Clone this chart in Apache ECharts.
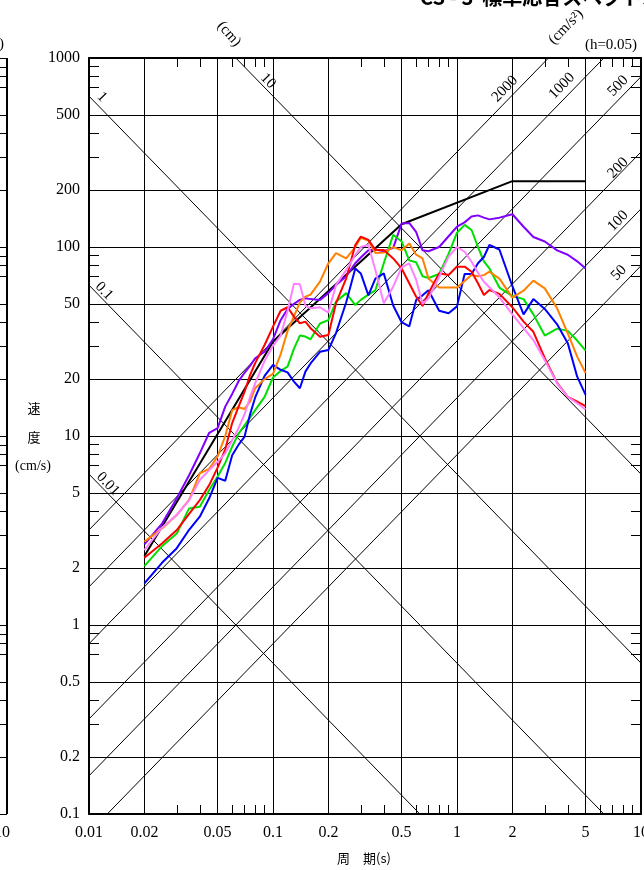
<!DOCTYPE html>
<html><head><meta charset="utf-8">
<script src="https://cdn.jsdelivr.net/npm/echarts@6/dist/echarts.min.js"></script>
<style>html,body{margin:0;padding:0;background:#fff}#c{width:644px;height:870px}</style>
</head><body><div id="c"></div>
<script>
// ---- data ----
const periods = [0.02,0.025,0.03,0.035,0.04,0.045,0.05,0.055,0.06,0.065,0.07,0.075,0.08,0.09,
  0.1,0.11,0.12,0.13,0.14,0.15,0.16,0.18,0.2,0.22,0.25,0.28,0.3,0.33,0.36,0.4,0.45,
  0.5,0.55,0.6,0.65,0.7,0.8,0.9,1.0,1.1,1.2,1.3,1.4,1.5,1.7,2.0,2.3,2.6,3.0,3.5,4.0,4.5,5.0];
const purpleSv = [2.67,3.45,4.68,6.2,8.1,10.4,11.0,14.3,16.7,19.5,21.6,23.5,25.8,27.9,
  32.5,41,47,50,52.5,53.6,53,52.5,57,63,70,82,88,96,97,95,99,
  133,134,120,96,95,100,114,128,135,145,147,143,140,143,149,128,113,107,96,91,84,77];
const greenSv = [2.05,2.62,3.05,4.14,4.22,5.18,6.1,7.2,8.8,10.3,11.4,12.5,13.7,16.1,
  20.4,22.1,23.3,29,34,33.6,32.5,39.4,41,51.4,57,49.3,52.5,56,59,82,116,
  107,85,83,70,68.5,72,92,119,131,123,100,84,77,61,55,53,44,34,37,36,32,28.3];
const blueSv = [1.66,2.14,2.55,3.19,3.74,4.68,6.0,5.8,7.9,9.0,9.9,13,16,20.8,
  23.8,22.4,21.7,19.4,17.9,21.9,24.2,27.9,28.5,35,51,77,72.5,55.5,68,72.5,49,
  40,38,52.5,55.5,59,46,44.6,48.5,72,72,82,88.5,102.5,97,62,44,53,47,39,31,20.6,16.5];
const orangeSv = [2.76,3.25,3.82,4.59,6.35,6.7,7.8,10,13.7,14.2,13.9,15.2,17.9,20,
  21.3,27,36,43,51,54.6,56,65.6,82,92.7,87,100,112,108,93,93.5,100,
  96,104.5,91,87,68,61,61,61,66,71,70,71,74,68,54,58.7,66.4,60.4,47.4,34.9,26.3,21.5];
const redSv = [2.27,2.71,3.18,3.87,4.58,5.5,6.8,8.5,11.7,14.3,17.1,21,24.3,30.3,
  37.9,46,48,42.8,39.5,40.3,37.2,33.5,34.2,50.4,68.3,102.5,113.5,109,96.4,96.4,87,
  77,64.3,54.6,48.7,56.9,72.6,71.1,78.7,78.7,74,64.3,55.7,59.2,56.5,48,40.3,35.6,25.8,19.1,16.1,15.2,14.4];
const pinkSv = [2.49,3.29,3.82,4.58,5.85,6.6,7.3,8.1,9.5,11,13,16,19,25,
  30,34,46,64,63.5,49,47.4,48,45,63,75.5,90.7,100,102.6,75.5,50.4,61.7,
  78,82,67,50,53.5,69.6,89,100,94.4,83.6,73,65.5,61.2,54.2,44,37.2,32.2,25.2,19,16.1,14.9,13.8];
const stdPeriods = [0.02,0.1,0.5,2,5];
const stdSv = [2.32,31.5,132,223,223];

const xMajor = [0.01,0.02,0.05,0.1,0.2,0.5,1,2,5,10];
const xMinor = [0.03,0.04,0.06,0.07,0.08,0.09,0.3,0.4,0.6,0.7,0.8,0.9,3,4,6,7,8,9];
const yMajor = [0.1,0.2,0.5,1,2,5,10,20,50,100,200,500,1000];
const yMinor = [0.3,0.4,0.7,0.8,0.9,3,4,7,8,9,30,40,70,80,90,300,400,700,800,900];
const dispLinesCm = [0.01,0.1,1,10];
const accLinesCms2 = [50,100,200,500,1000,2000];

// ---- chart ----
const TWO_PI = 2*Math.PI;
const serif = '"Liberation Serif","DejaVu Serif",serif';
const fmt = v => String(+(+v).toPrecision(6));

function curve(name, color, vals, xs){
  xs = xs || periods;
  return {name, type:'line', data: xs.map((t,i)=>[t, vals[i]]), showSymbol:false,
    lineStyle:{color, width:2}, itemStyle:{color}, z:5, animation:false};
}
const diag = [];
dispLinesCm.forEach(sd => diag.push({type:'line', data:[[0.01, TWO_PI*sd/0.01],[10, TWO_PI*sd/10]],
  showSymbol:false, lineStyle:{color:'#000', width:1}, z:3, silent:true, animation:false}));
accLinesCms2.forEach(sa => diag.push({type:'line', data:[[0.01, sa*0.01/TWO_PI],[10, sa*10/TWO_PI]],
  showSymbol:false, lineStyle:{color:'#000', width:1}, z:3, silent:true, animation:false}));

const baseX = {type:'log', min:0.01, max:10, gridIndex:0};
const baseY = {type:'log', min:0.1, max:1000, gridIndex:0};
const option = {
  animation:false,
  backgroundColor:'#fff',
  grid:{left:89, right:3, top:58, bottom:56, containLabel:false, outerBoundsMode:'none'},
  xAxis:[
    Object.assign({}, baseX, {position:'bottom',
      axisLine:{show:true, lineStyle:{color:'#000', width:2}},
      axisTick:{show:false, customValues:xMajor},
      axisLabel:{show:true, customValues:xMajor, formatter:fmt, color:'#000', fontFamily:serif, fontSize:16, margin:11},
      splitLine:{show:true, lineStyle:{color:'#000', width:1}}}),
    Object.assign({}, baseX, {position:'top',
      axisLine:{show:true, lineStyle:{color:'#000', width:2}},
      axisTick:{show:true, inside:true, length:9, customValues:xMinor, lineStyle:{color:'#000', width:1}},
      axisLabel:{show:false}, splitLine:{show:false}}),
    Object.assign({}, baseX, {position:'bottom',
      axisLine:{show:false},
      axisTick:{show:true, inside:true, length:9, customValues:xMinor, lineStyle:{color:'#000', width:1}},
      axisLabel:{show:false}, splitLine:{show:false}})
  ],
  yAxis:[
    Object.assign({}, baseY, {position:'left',
      axisLine:{show:true, lineStyle:{color:'#000', width:2}},
      axisTick:{show:false, customValues:yMajor},
      axisLabel:{show:true, customValues:yMajor, formatter:fmt, color:'#000', fontFamily:serif, fontSize:16, margin:9},
      splitLine:{show:true, lineStyle:{color:'#000', width:1}}}),
    Object.assign({}, baseY, {position:'left',
      axisLine:{show:false},
      axisTick:{show:true, inside:true, length:10, customValues:yMinor, lineStyle:{color:'#000', width:1}},
      axisLabel:{show:false}, splitLine:{show:false}}),
    Object.assign({}, baseY, {position:'right',
      axisLine:{show:true, lineStyle:{color:'#000', width:2}},
      axisTick:{show:true, inside:true, length:10, customValues:yMinor, lineStyle:{color:'#000', width:1}},
      axisLabel:{show:false}, splitLine:{show:false}})
  ],
  series: diag.concat([
    curve('standard','#000000', stdSv, stdPeriods),
    curve('purple','#8000ff', purpleSv),
    curve('green','#00e000', greenSv),
    curve('blue','#0000ff', blueSv),
    curve('orange','#ff8000', orangeSv),
    curve('red','#ff0000', redSv),
    curve('pink','#ff80ff', pinkSv)
  ])
};

const chart = echarts.init(document.getElementById('c'), null, {renderer:'canvas'});
chart.setOption(option);

// ---- annotations ----
function txt(text, x, y, rot, font, align){
  return {type:'text', x, y, rotation:rot||0, z:20, silent:true,
    style:{text, font: font || ('15px ' + serif), fill:'#000',
      textAlign: align||'center', align: align||'center', textVerticalAlign:'middle', verticalAlign:'middle'}};
}
const cjk = '"Noto Sans CJK JP","Noto Sans CJK SC",sans-serif';
const g = [
  txt('CS - 3  標準応答スペクトル', 420, -3, 0, 'bold 20px ' + cjk, 'left'),
  txt('(cm)', 229, 34, -0.85),
  txt('1', 102, 97, -0.8),
  txt('10', 268, 81, -0.8),
  txt('0.1', 104, 291, -0.8),
  txt('0.01', 108, 484, -0.8),
  txt('2000', 505, 89, 0.8),
  txt('1000', 562, 86, 0.8),
  txt('500', 618, 86, 0.8),
  txt('200', 618, 168, 0.8),
  txt('100', 618, 221, 0.8),
  txt('50', 619, 273, 0.8),
  txt('(cm/s²)', 566, 27, 0.8),
  txt('(h=0.05)', 611, 45, 0, '15px ' + serif),
  txt('速', 34, 408, 0, '13px ' + cjk),
  txt('度', 34, 437, 0, '13px ' + cjk),
  txt('(cm/s)', 33, 466, 0, '14px ' + serif),
  txt('周　期(s)', 364, 858, 0, '13px ' + cjk),
  txt('10', 10, 833, 0, '16px ' + serif, 'right'),
  txt(')', -1, 44, 0, '15px ' + serif, 'left')
];
// fragment of the neighbouring chart at the left edge
const yTop = chart.convertToPixel({yAxisIndex:0}, 1000);
const yBot = chart.convertToPixel({yAxisIndex:0}, 0.1);
g.push({type:'line', z:20, silent:true, shape:{x1:7, y1:yTop, x2:7, y2:yBot}, style:{stroke:'#000', lineWidth:2}});
yMajor.concat(yMinor).forEach(v => {
  const py = Math.round(chart.convertToPixel({yAxisIndex:0}, v)) + 0.5;
  g.push({type:'line', z:20, silent:true, shape:{x1:0, y1:py, x2:7, y2:py}, style:{stroke:'#000', lineWidth:1}});
});
chart.setOption({graphic:{elements:g}});
</script>
</body></html>
